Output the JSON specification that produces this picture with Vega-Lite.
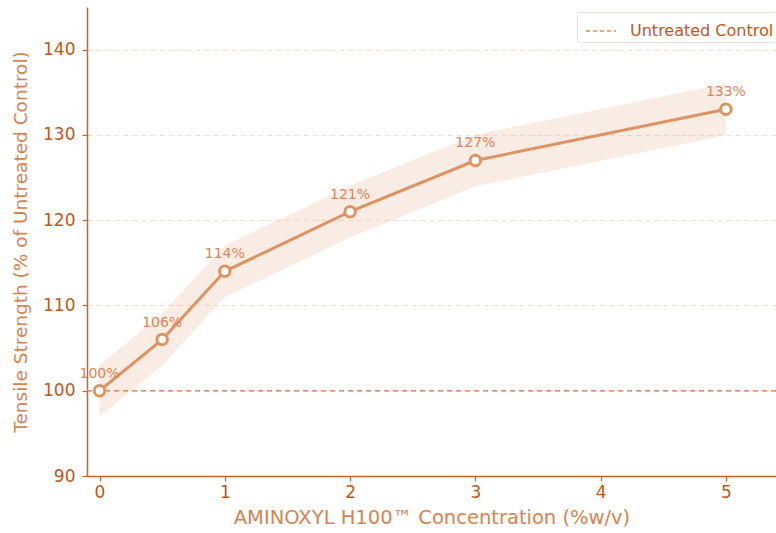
{
  "$schema": "https://vega.github.io/schema/vega-lite/v6.json",
  "width": 689,
  "height": 469,
  "autosize": {"type": "none"},
  "padding": {"left": 87, "top": 7, "right": 0, "bottom": 57},
  "background": "white",
  "config": {
    "view": {"stroke": null},
    "font": "DejaVu Sans",
    "axis": {
      "domainColor": "#c8632a",
      "tickColor": "#c8632a",
      "labelColor": "#c0561c",
      "titleColor": "#d6834f",
      "labelFont": "DejaVu Sans",
      "titleFont": "DejaVu Sans",
      "labelFontSize": 17,
      "titleFontWeight": "normal",
      "domainWidth": 1.5,
      "tickSize": 5,
      "tickWidth": 1.2
    }
  },
  "datasets": {
    "main": [
      {"conc": 0, "strength": 100, "lo": 97, "hi": 103, "label": "100%"},
      {"conc": 0.5, "strength": 106, "lo": 103, "hi": 109, "label": "106%"},
      {"conc": 1, "strength": 114, "lo": 111, "hi": 117, "label": "114%"},
      {"conc": 2, "strength": 121, "lo": 118, "hi": 124, "label": "121%"},
      {"conc": 3, "strength": 127, "lo": 124, "hi": 130, "label": "127%"},
      {"conc": 5, "strength": 133, "lo": 130, "hi": 136, "label": "133%"}
    ],
    "ref": [{"y": 100, "series": "Untreated Control"}]
  },
  "layer": [
    {
      "data": {"name": "main"},
      "mark": {"type": "area", "color": "#eab597", "opacity": 0.25, "stroke": "#e8a57e", "strokeOpacity": 0.3, "strokeWidth": 1},
      "encoding": {
        "x": {"field": "conc", "type": "quantitative", "scale": {"domain": [-0.1, 5.4], "nice": false}, "axis": {"values": [0, 1, 2, 3, 4, 5], "format": "d", "grid": false, "title": "AMINOXYL H100™ Concentration (%w/v)", "titleFontSize": 19.5, "titlePadding": 8, "labelPadding": 3}},
        "y": {"field": "lo", "type": "quantitative", "scale": {"domain": [90, 145], "nice": false}, "axis": {"values": [90, 100, 110, 120, 130, 140], "grid": true, "gridColor": "#f3dcd0", "gridDash": [5, 4], "gridWidth": 1, "title": "Tensile Strength (% of Untreated Control)", "titleFontSize": 18.5, "titlePadding": 12, "labelPadding": 7}},
        "y2": {"field": "hi"}
      }
    },
    {
      "data": {"name": "ref"},
      "mark": {"type": "rule", "strokeWidth": 1.3},
      "encoding": {
        "y": {"field": "y", "type": "quantitative"},
        "color": {"field": "series", "type": "nominal", "scale": {"range": ["#e08e5c"]}, "legend": {"title": null, "orient": "none", "legendX": 490, "legendY": 5, "labelColor": "#c0561c", "labelFontSize": 16, "labelFont": "DejaVu Sans", "symbolType": "stroke", "symbolStrokeWidth": 1.3, "symbolDash": [4, 3], "symbolSize": 900, "symbolOffset": 5, "labelOffset": 13, "strokeColor": "#f3dcd0", "fillColor": "white", "padding": 3, "cornerRadius": 3}},
        "strokeDash": {"value": [5, 4]}
      }
    },
    {
      "data": {"name": "main"},
      "mark": {"type": "line", "color": "#dd9462", "strokeWidth": 3},
      "encoding": {
        "x": {"field": "conc", "type": "quantitative"},
        "y": {"field": "strength", "type": "quantitative"}
      }
    },
    {
      "data": {"name": "main"},
      "mark": {"type": "point", "filled": false, "fill": "white", "fillOpacity": 1, "stroke": "#dd9462", "strokeWidth": 3, "size": 110, "opacity": 1},
      "encoding": {
        "x": {"field": "conc", "type": "quantitative"},
        "y": {"field": "strength", "type": "quantitative"}
      }
    },
    {
      "data": {"name": "main"},
      "mark": {"type": "text", "color": "#d98658", "fontSize": 14, "dy": -17, "font": "DejaVu Sans"},
      "encoding": {
        "x": {"field": "conc", "type": "quantitative"},
        "y": {"field": "strength", "type": "quantitative"},
        "text": {"field": "label"}
      }
    }
  ]
}
